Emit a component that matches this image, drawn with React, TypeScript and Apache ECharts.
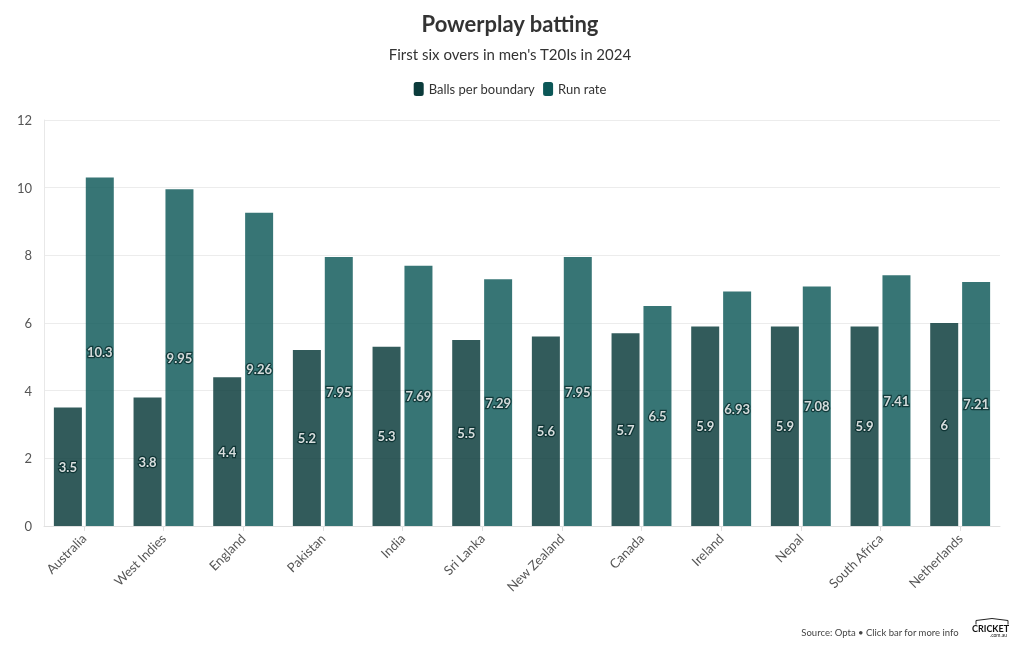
import React, { useEffect, useRef } from "react";
import * as echarts from "echarts";

const categories = ["Australia", "West Indies", "England", "Pakistan", "India", "Sri Lanka", "New Zealand", "Canada", "Ireland", "Nepal", "South Africa", "Netherlands"];
const ballsPerBoundary = [3.5, 3.8, 4.4, 5.2, 5.3, 5.5, 5.6, 5.7, 5.9, 5.9, 5.9, 6];
const runRate = [10.3, 9.95, 9.26, 7.95, 7.69, 7.29, 7.95, 6.5, 6.93, 7.08, 7.41, 7.21];
const seriesNames = ["Balls per boundary", "Run rate"];
const colors = ["#0b3b3b", "#0b5757"];

const FONT = "Lato, 'Noto Sans', sans-serif";

export default function App() {
  const ref = useRef<HTMLDivElement>(null);
  useEffect(() => {
    const chart = echarts.init(ref.current!, null, { renderer: "svg" });
    const label = {
      show: true,
      position: "inside",
      color: "#ffffff",
      fontWeight: "bold",
      fontSize: 13,
      fontFamily: FONT,
      textBorderColor: "#0a2e2e",
      textBorderWidth: 2.5,
    };
    chart.setOption({
      animation: false,
      textStyle: { fontFamily: FONT },
      title: [
        {
          text: "Powerplay batting",
          left: "center",
          top: 7,
          textStyle: { fontSize: 22, fontWeight: "bold", color: "#333", fontFamily: FONT },
        },
        {
          text: "First six overs in men's T20Is in 2024",
          left: "center",
          top: 41,
          textStyle: { fontSize: 15, fontWeight: "normal", color: "#333", fontFamily: FONT },
        },
        {
          text: "Source: Opta • Click bar for more info",
          right: 56,
          top: 622,
          textStyle: { fontSize: 9.5, fontWeight: "normal", color: "#444", fontFamily: FONT },
        },
      ],
      legend: {
        top: 77,
        left: "center",
        icon: "roundRect",
        itemWidth: 10,
        itemHeight: 14,
        itemGap: 8,
        textStyle: { fontSize: 13, color: "#333", fontFamily: FONT },
        data: seriesNames.map((n, i) => ({ name: n, itemStyle: { color: colors[i], opacity: 1 } })),
      },
      grid: { left: 44, right: 20, top: 120, bottom: 124, containLabel: false },
      xAxis: {
        type: "category",
        data: categories,
        axisLine: { show: true, lineStyle: { color: "#e0e0e0" } },
        axisTick: { show: true, alignWithLabel: true, length: 5, lineStyle: { color: "#e0e0e0" } },
        axisLabel: { rotate: 45, color: "#555", fontSize: 13, margin: 10, fontFamily: FONT, interval: 0 },
      },
      yAxis: {
        type: "value",
        min: 0,
        max: 12,
        interval: 2,
        axisLine: { show: true, lineStyle: { color: "#e8e8e8" } },
        axisTick: { show: false },
        axisLabel: { color: "#555", fontSize: 13, margin: 12, fontFamily: FONT },
        splitLine: { lineStyle: { color: "#ececec" } },
      },
      series: [
        {
          name: seriesNames[0],
          type: "bar",
          data: ballsPerBoundary,
          barWidth: 28,
          barGap: "14%",
          itemStyle: { color: colors[0], opacity: 0.84 },
          label,
        },
        {
          name: seriesNames[1],
          type: "bar",
          data: runRate,
          barWidth: 28,
          barGap: "14%",
          itemStyle: { color: colors[1], opacity: 0.82 },
          label,
        },
      ],
      graphic: [
        {
          type: "group",
          left: 972,
          top: 616,
          children: [
            {
              type: "polyline",
              shape: { points: [[6, 6], [6, 2], [22, 0], [38, 2], [38, 6]] },
              style: { stroke: "#222", lineWidth: 1, fill: "none" },
            },
            {
              type: "text",
              x: 2,
              y: 5,
              style: { text: "CRICKET", fontSize: 9, fontWeight: "bold", fill: "#111", fontFamily: FONT },
            },
            {
              type: "text",
              x: 20,
              y: 14,
              style: { text: ".com.au", fontSize: 5, fill: "#111", fontFamily: FONT },
            },
          ],
        },
      ],
    });
    return () => chart.dispose();
  }, []);
  return <div ref={ref} style={{ position: "fixed", left: 0, top: 0, width: 1020, height: 650 }} />;
}
